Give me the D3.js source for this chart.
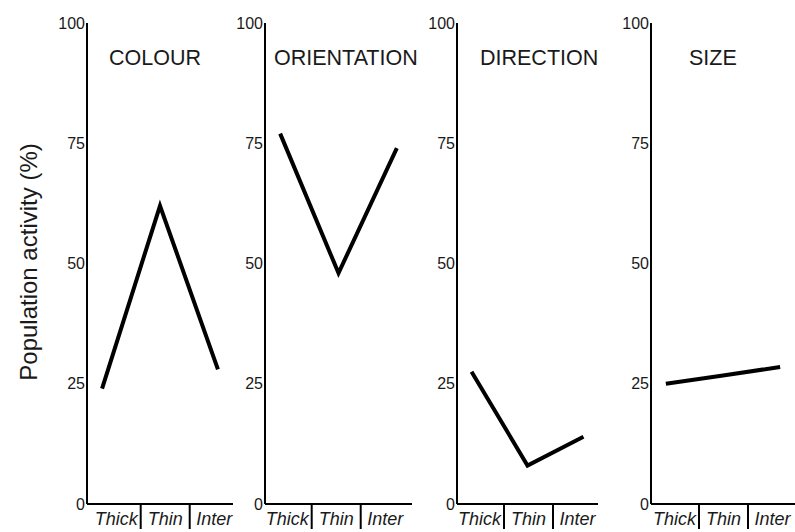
<!DOCTYPE html>
<html>
<head>
<meta charset="utf-8">
<script src="https://cdn.jsdelivr.net/npm/d3@7"></script>
<style>
  html, body { margin: 0; padding: 0; background: #fff; }
  svg { display: block; font-family: "Liberation Sans", Arial, sans-serif; }
</style>
</head>
<body>
<svg id="chart" width="795" height="532"></svg>
<script>
// Categories along each panel's x axis
const categories = ["Thick", "Thin", "Inter"];
// Panel titles
const panelTitles = ["COLOUR", "ORIENTATION", "DIRECTION", "SIZE"];
// Population activity (%) per panel
const colourValues = [24, 62, 28];
const orientationValues = [77, 48, 74];
const directionValues = [27.5, 8, 14];
const sizeValues = [25, 26.7, 28.5];
// y-axis tick labels
const yTicks = [0, 25, 50, 75, 100];

const seriesValues = [colourValues, orientationValues, directionValues, sizeValues];

// Layout of the four panels
const panelLeft = [87, 265, 457, 651];
const panelWidth = [146, 147, 141, 144];
const labelOffset = [4.7, -2.3, -2, -1];
const titleLeft = [109, 274, 480, 689];
const slotWidth = 49;
const yBottom = 504, yTop = 23;

const svg = d3.select("#chart");
const y = d3.scaleLinear().domain([0, 100]).range([yBottom, yTop]);

// Shared y-axis title
svg.append("text")
  .attr("transform", `translate(28,262) rotate(-90)`)
  .attr("text-anchor", "middle")
  .attr("dominant-baseline", "central")
  .attr("font-size", 24)
  .attr("fill", "#1a1a1a")
  .text("Population activity (%)");

panelTitles.forEach((title, i) => {
  const g = svg.append("g").attr("transform", `translate(${panelLeft[i]},0)`);
  const w = panelWidth[i];

  // y axis: line with numeric labels, no tick marks
  const yAxis = d3.axisLeft(y).tickValues(yTicks).tickSize(0).tickPadding(2);
  const ya = g.append("g").call(yAxis);
  ya.select(".domain").attr("stroke", "#000").attr("stroke-width", 2)
    .attr("d", `M0,${yTop}V${yBottom}`);
  ya.selectAll("text")
    .attr("font-family", "Liberation Sans, Arial, sans-serif")
    .attr("font-size", 16)
    .attr("fill", "#1a1a1a");

  // x axis baseline
  g.append("line")
    .attr("x1", 0).attr("x2", w)
    .attr("y1", yBottom).attr("y2", yBottom)
    .attr("stroke", "#000").attr("stroke-width", 2);

  // category label slots with dividers between them
  const band = d3.scaleBand().domain(categories)
    .range([labelOffset[i], labelOffset[i] + slotWidth * categories.length]);
  g.selectAll(".divider")
    .data(categories.slice(1))
    .join("line")
    .attr("x1", d => band(d)).attr("x2", d => band(d))
    .attr("y1", yBottom).attr("y2", yBottom + 25)
    .attr("stroke", "#000").attr("stroke-width", 2);
  g.selectAll(".cat")
    .data(categories)
    .join("text")
    .attr("x", d => band(d) + band.bandwidth() / 2)
    .attr("y", yBottom + 21)
    .attr("text-anchor", "middle")
    .attr("font-size", 18)
    .attr("font-style", "italic")
    .attr("fill", "#1a1a1a")
    .text(d => d);

  // panel title
  g.append("text")
    .attr("x", titleLeft[i] - panelLeft[i])
    .attr("y", 65)
    .attr("font-size", 21.5)
    .attr("fill", "#1a1a1a")
    .text(title);

  // data line
  const x = d3.scalePoint().domain(categories).range([0, w]).padding(0.26);
  const line = d3.line().x((d, j) => x(categories[j])).y(d => y(d));
  g.append("path")
    .attr("d", line(seriesValues[i]))
    .attr("fill", "none")
    .attr("stroke", "#000")
    .attr("stroke-width", 4)
    .attr("stroke-linejoin", "miter");
});
</script>
</body>
</html>
